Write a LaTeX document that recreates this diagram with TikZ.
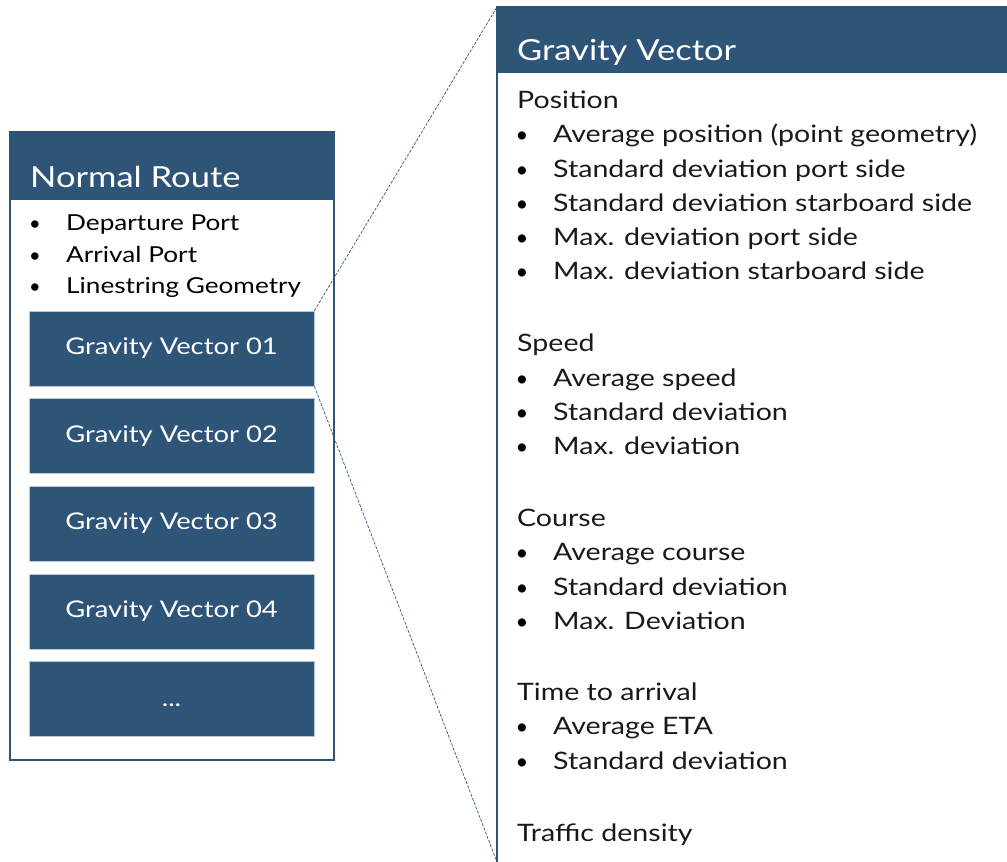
\documentclass[tikz,border=0pt]{standalone}
\usepackage{fontspec}
\setmainfont{Lato}[FakeStretch=1.19]
\newfontfamily\bulfont{Lato}
\definecolor{navy}{HTML}{2E5478}
\definecolor{edge}{HTML}{B8C6D6}
\tikzset{
  gvbox/.style={fill=navy,draw=edge,line width=0.8pt,minimum width=285pt,minimum height=75pt,inner sep=0pt,text=white,font=\fontsize{23}{23}\selectfont},
  head/.style={anchor=base west,inner sep=0pt,text=white},
  item/.style={anchor=base west,inner sep=0pt,text=black!90},
  bul/.style={anchor=base,inner sep=0pt,text=black},
  zoomline/.style={navy,dashed,dash pattern=on 3pt off 1.5pt,line width=0.7pt}
}
\begin{document}
\begin{tikzpicture}[x=1pt,y=-1pt]
\useasboundingbox (0,0) rectangle (1007,862);
\clip (0,0) rectangle (1007,862);
% left box
\fill[navy] (10,132) rectangle (334,200);
\draw[navy,line width=2pt] (10,132) rectangle (334,760);
\node[head,font=\fontsize{29}{29}\selectfont] (nrt) at (30,187) {Normal Route};
\foreach \y/\t [count=\i] in {230/Departure Port,262/Arrival Port,293/Linestring Geometry}{
  \node[bul,font=\bulfont\fontsize{20}{20}\selectfont] (lb\i) at (35,\y) {\textbullet};
  \node[item,font=\fontsize{22}{22}\selectfont,text=black] (lt\i) at (66,\y) {\t};
}
\node[gvbox] (gv1) at (171.5,348.5) {Gravity Vector 01};
\node[gvbox] (gv2) at (171.5,436) {Gravity Vector 02};
\node[gvbox] (gv3) at (171.5,523.5) {Gravity Vector 03};
\node[gvbox] (gv4) at (171.5,611.5) {Gravity Vector 04};
\node[gvbox,text height=14pt,text depth=0pt] (gv5) at (171.5,699) {...};
% right box
\fill[navy] (497,7) rectangle (1020,73);
\draw[navy,line width=2pt] (1020,7) -- (497,7) -- (497,880);
\node[head,font=\fontsize{29}{29}\selectfont] (gvt) at (517,60) {Gravity Vector};
\coordinate (rtl) at (497,7);
\coordinate (rbl) at (497,862);
\begin{scope}[font=\fontsize{24}{24}\selectfont]
\node[item] (h1) at (517,108) {Position};
\node[item] (h2) at (517,351) {Speed};
\node[item] (h3) at (517,526) {Course};
\node[item] (h4) at (517,700) {Time to arrival};
\node[item] (h5) at (517,841) {Traffic density};
\foreach \y/\t [count=\i] in {
  142/Average position (point geometry),
  177/Standard deviation port side,
  211/Standard deviation starboard side,
  245/Max. deviation port side,
  279/Max. deviation starboard side,
  386/Average speed,
  420/Standard deviation,
  454/Max. deviation,
  560/Average course,
  595/Standard deviation,
  629/Max. Deviation,
  734/Average ETA,
  769/Standard deviation}{
  \node[bul,font=\bulfont\fontsize{22}{22}\selectfont] (rb\i) at (522,\y) {\textbullet};
  \node[item] (ri\i) at (553,\y) {\t};
}
\end{scope}
% zoom connectors
\draw[zoomline] (gv1.north east) -- (rtl);
\draw[zoomline] (gv1.south east) -- (rbl);
\end{tikzpicture}
\end{document}
